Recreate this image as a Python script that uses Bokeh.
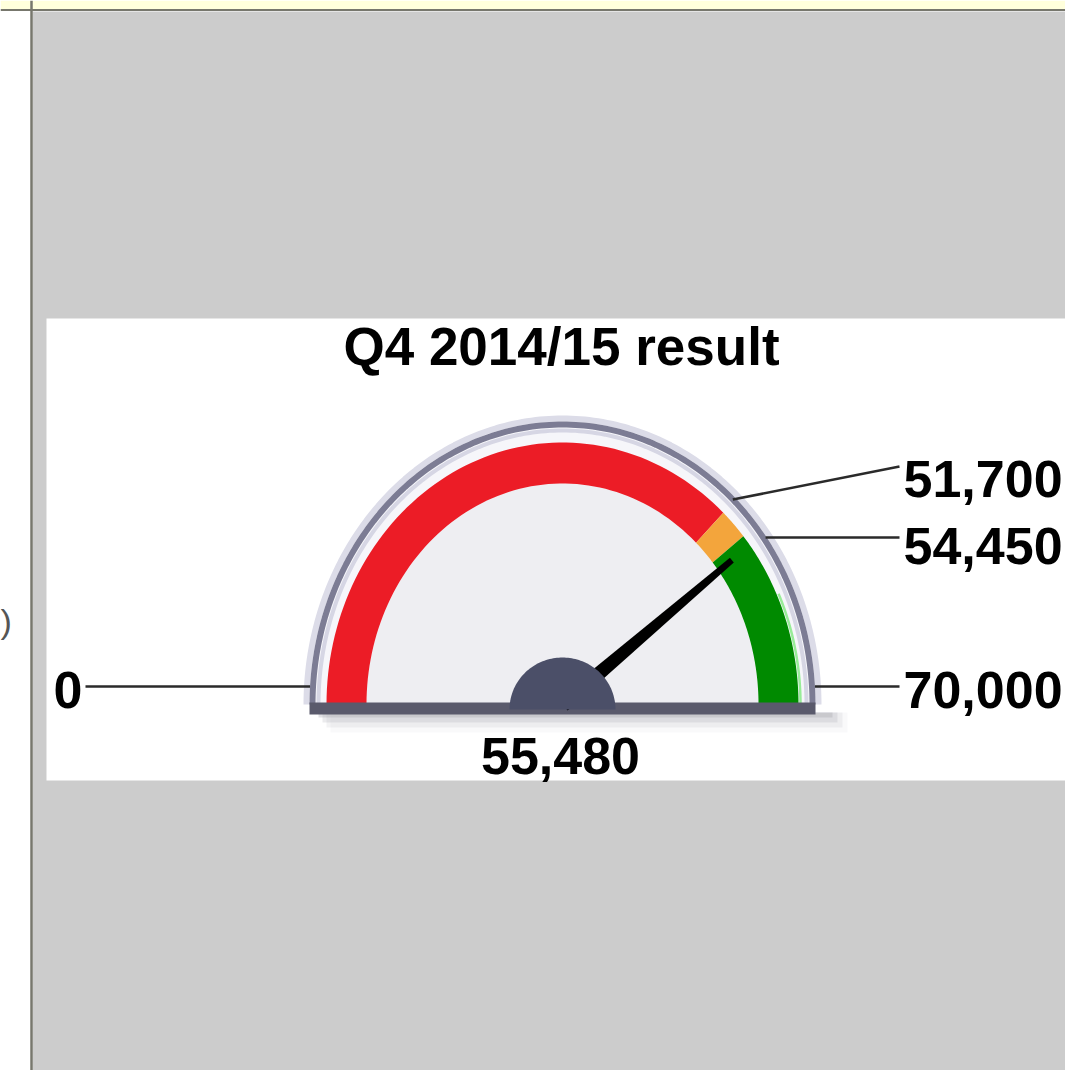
import numpy as np
from bokeh.plotting import figure
from bokeh.models import Range1d
from bokeh.embed import file_html
from bokeh.resources import INLINE
from bokeh.core.properties import value

# ---------------- data ----------------
title_text = "Q4 2014/15 result"
gauge_min = 0
gauge_max = 70000
band_starts = [0, 51700, 54450]
band_ends = [51700, 54450, 70000]
band_colors = ["#ec1c26", "#f3a53c", "#008a00"]
needle_value = 55480
value_text = "55,480"
tick_values = [0, 51700, 54450, 70000]
tick_labels = ["0", "51,700", "54,450", "70,000"]

# ---------------- layout (reference pixel coordinates) ----------------
W, H = 1065, 1070
FONT = value("Liberation Sans")
CX, CY = 562, 704
RX_O, RY_O = 236, 262      # band outer
RX_I, RY_I = 196, 221      # band inner
RX_R, RY_R = 250, 280      # frame ring

def ang(v):
    return np.pi * (1 - (v - gauge_min) / (gauge_max - gauge_min))

def ell(t, rx, ry):
    return CX + rx * np.cos(t), CY - ry * np.sin(t)

p = figure(width=W, height=H, x_range=Range1d(0, W), y_range=Range1d(H, 0),
           output_backend="svg", toolbar_location=None, min_border=0,
           x_axis_type=None, y_axis_type=None, outline_line_color=None,
           background_fill_color="white", border_fill_color="white")
p.grid.visible = False

# page background pieces
p.quad(left=[32], right=[1100], top=[11], bottom=[1100], fill_color="#cccccc", line_color=None)
p.quad(left=[0], right=[1100], top=[0], bottom=[9], fill_color="#ffffdc", line_color=None)
p.line([0, 1100], [9.5, 9.5], line_color="#77776d", line_width=2)
p.line([31, 31], [0, 1100], line_color="#77776d", line_width=2.5)
p.text(x=[0], y=[620], text=[")"], text_font=FONT, text_font_size="34px",
       text_color="#555555", text_baseline="middle", text_align="left")

# white panel
p.quad(left=[46], right=[1100], top=[318], bottom=[780], fill_color="white", line_color=None)

# soft shadow beneath / beside gauge
for i, a in enumerate([0.30, 0.20, 0.12, 0.06]):
    p.quad(left=[318 + i * 4], right=[832 + i * 5], top=[712], bottom=[717 + i * 5],
           fill_color="#9a9aa6", fill_alpha=a, line_color=None)

# face
tt = np.linspace(np.pi, 0, 181)
fx, fy = ell(tt, RX_R, RY_R)
p.patch(list(fx), list(fy), fill_color="#f6f6fa", line_color=None)
ix, iy = ell(tt, RX_I, RY_I)
p.patch(list(ix), list(iy), fill_color="#eeeef2", line_color=None)

# frame ring: halo + line + inner highlight
hx, hy = ell(tt, RX_R + 6, RY_R + 6)
p.line(list(hx), list(hy), line_color="#dcdce8", line_width=6)
p.line(list(fx), list(fy), line_color="#7c7c94", line_width=6)
gx, gy = ell(tt, RX_R - 6, RY_R - 6)
p.line(list(gx), list(gy), line_color="#d6d6e4", line_width=4)

# coloured bands
for v0, v1, c in zip(band_starts, band_ends, band_colors):
    t = np.linspace(ang(v0), ang(v1), 80)
    ox, oy = ell(t, RX_O, RY_O)
    inx, iny = ell(t[::-1], RX_I, RY_I)
    p.patch(list(ox) + list(inx), list(oy) + list(iny), fill_color=c, line_color=None)
# light edge on green band end
t = np.linspace(ang(band_starts[2]), ang(band_ends[2]), 80)
ex, ey = ell(t, RX_O + 2, RY_O + 2)
p.line(list(ex[30:]), list(ey[30:]), line_color="#98ec98", line_width=2.5)

# baseline bar
p.quad(left=[CX - RX_R - 3], right=[CX + RX_R + 3], top=[702], bottom=[714],
       fill_color="#5a5a6c", line_color=None)

# needle
tn = ang(needle_value)
tipx, tipy = CX + 213 * np.cos(tn), CY - 238 * np.sin(tn)
dx, dy = tipx - CX, tipy - CY
L = np.hypot(dx, dy)
nx, ny = -dy / L, dx / L
p.patch([CX + nx * 8, tipx + nx * 3, tipx - nx * 3, CX - nx * 8],
        [CY + ny * 8, tipy + ny * 3, tipy - ny * 3, CY - ny * 8],
        fill_color="black", line_color=None)

# hub
ht = np.linspace(np.pi, 0, 91)
p.patch(list(CX + 53 * np.cos(ht)), list(709 - 52 * np.sin(ht)),
        fill_color="#4b4f68", line_color=None)

# tick leader lines + labels
label_x = [82, 903, 903, 903]
label_align = ["right", "left", "left", "left"]
label_mid = [689, 478, 545, 689]
leader_end_y = [686, 466, 537, 686]
for v, lab, lx, al, lm, ly in zip(tick_values, tick_labels, label_x, label_align,
                                    label_mid, leader_end_y):
    t = ang(v)
    if v == 51700:
        sx, sy = ell(t, RX_R, RY_R)
    else:
        s = np.clip((CY - ly) / RY_R, -1, 1)
        side = 1 if np.cos(t) >= 0 else -1
        sx = CX + side * (RX_R + 3) * np.sqrt(1 - s * s)
        sy = ly
    ex_ = lx + (3 if al == "right" else -4)
    p.line([sx, ex_], [sy, ly], line_color="#2a2a2a", line_width=2.5)
    p.text(x=[lx], y=[lm], text=[lab], text_font=FONT, text_font_size="52px",
           text_font_style="bold", text_color="black", text_align=al,
           text_baseline="middle")

# title and value
p.text(x=[561], y=[346], text=[title_text], text_font=FONT, text_font_size="53px",
       text_font_style="bold", text_color="black", text_align="center",
       text_baseline="middle")
p.text(x=[560], y=[755], text=[value_text], text_font=FONT, text_font_size="52px",
       text_font_style="bold", text_color="black", text_align="center",
       text_baseline="middle")

open("out.html", "w").write(file_html(p, INLINE))
